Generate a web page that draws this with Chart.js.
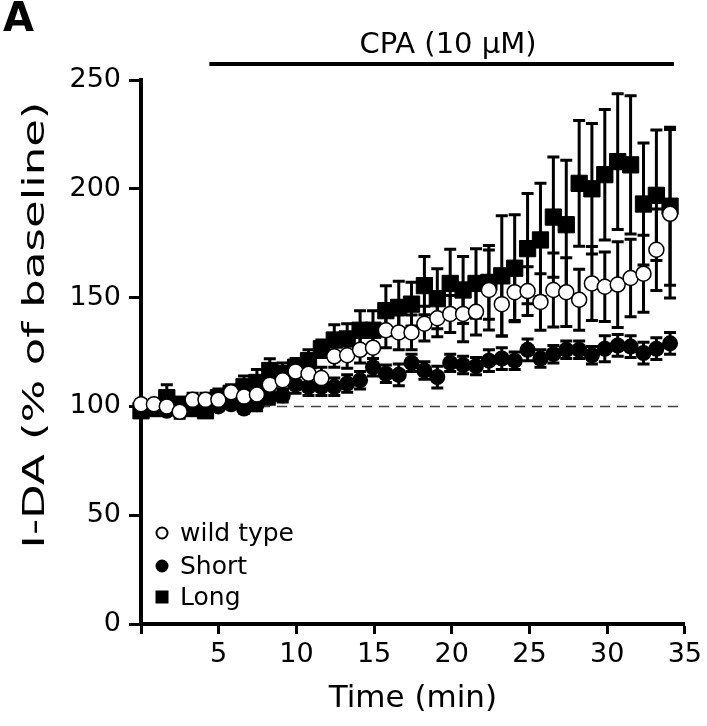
<!DOCTYPE html>
<html>
<head>
<meta charset="utf-8">
<script src="https://cdn.jsdelivr.net/npm/chart.js@4.4.0/dist/chart.umd.min.js"></script>
<style>
  html, body { margin: 0; padding: 0; background: #fff; }
</style>
</head>
<body>
<canvas id="cpaChart" width="707" height="726"></canvas>
<script>
// sampling times (min)
const timeMin = [0, 0.83, 1.66, 2.49, 3.32, 4.15, 4.98, 5.8, 6.63, 7.46,
  8.29, 9.12, 9.95, 10.78, 11.61, 12.44, 13.27, 14.1, 14.93, 15.76,
  16.59, 17.41, 18.24, 19.07, 19.9, 20.73, 21.56, 22.39, 23.22, 24.05,
  24.88, 25.71, 26.54, 27.37, 28.2, 29.02, 29.85, 30.68, 31.51, 32.34,
  33.17, 34.05];

// I-DA, % of baseline (mean and SEM)
const wildType = [101, 101, 100, 97.5, 103, 103, 103, 106.5, 104.5, 105.5,
  110, 112, 116, 115, 113, 123, 123.5, 126, 127, 135,
  134, 134, 138, 140.5, 142.5, 142.5, 143.5, 153.5, 147, 152.5,
  153, 148, 153.5, 152.5, 149, 156.5, 155, 156, 159, 161,
  172, 188.5];
const wildTypeErr = [2, 2, 3, 3, 3, 3, 3, 3, 3, 3,
  4, 4, 5, 5, 5, 5, 6, 6, 7, 8,
  8, 8, 8, 8.5, 8.5, 12.8, 10.7, 18.4, 14.6, 13,
  11.2, 13, 17, 15.8, 14, 17, 16, 19.7, 17.8, 17.7,
  18.7, 38.7];

const shortIso = [98, 99, 98, 99, 100, 99, 100, 101, 99, 101,
  104, 105, 110, 109, 109, 109, 110.5, 112, 118, 115,
  114.5, 120, 116.5, 113.5, 120, 119, 118.5, 121, 122, 121,
  126, 122, 124, 126, 126, 123.5, 126.5, 128, 127.5, 124.5,
  126.5, 129];
const shortErr = [2, 2, 2, 2, 2, 2, 2, 2, 2, 3,
  3, 3, 4, 4, 4, 4, 4, 4, 4, 4,
  5, 4, 4, 5, 4, 4, 4, 5, 5, 4,
  5, 4, 4, 4, 4, 4, 6, 5, 5, 5,
  5, 5];

const longIso = [98, 99, 104, 101, 99, 98, 104, 106, 109, 111,
  116.5, 115, 118, 121, 126.5, 130.5, 131, 135, 135, 144,
  145.5, 147, 155.5, 149.5, 156.5, 153.5, 156.5, 157, 160, 163.5,
  172.5, 176.5, 187, 183.5, 202.5, 200, 206.5, 212.5, 211, 193,
  197, 192];
const longErr = [3, 3, 6, 3, 3, 3, 4, 4, 5, 6,
  5.4, 5, 4, 5, 4, 7, 7, 9, 9, 11.5,
  12, 10, 13.4, 13.8, 15.7, 15.4, 16, 17, 27.6, 24.6,
  25.3, 26, 27.6, 29.6, 28.9, 30, 30, 31.2, 31.8, 28,
  30, 36.3];

const seriesLabels = ['wild type', 'Short', 'Long'];
const cpaStart = 4.4, cpaEnd = 34.3;
const baseline = 100;

const FONT = '"DejaVu Sans", "Liberation Sans", sans-serif';
Chart.defaults.font.family = FONT;
Chart.defaults.color = '#000';

const toPoints = (vals) => timeMin.map((t, i) => ({ x: t, y: vals[i] }));

// error bars under each dataset's markers
const errorBars = {
  id: 'errorBars',
  beforeDatasetDraw(chart, args) {
    const ds = chart.data.datasets[args.index];
    if (!ds.errors) return;
    const yScale = chart.scales.y;
    const ctx = chart.ctx;
    ctx.save();
    ctx.strokeStyle = '#000';
    ctx.lineWidth = 3;
    args.meta.data.forEach((pt, i) => {
      const v = ds.data[i].y, e = ds.errors[i];
      const top = yScale.getPixelForValue(v + e);
      const bot = yScale.getPixelForValue(v - e);
      ctx.beginPath();
      ctx.moveTo(pt.x, top); ctx.lineTo(pt.x, bot);
      ctx.moveTo(pt.x - 6, top); ctx.lineTo(pt.x + 6, top);
      ctx.moveTo(pt.x - 6, bot); ctx.lineTo(pt.x + 6, bot);
      ctx.stroke();
    });
    ctx.restore();
  }
};

// dashed baseline, CPA bar, panel letter, y title, legend
const decorations = {
  id: 'decorations',
  beforeDatasetsDraw(chart) {
    const { ctx, scales: { x, y } } = chart;
    ctx.save();
    ctx.strokeStyle = '#444';
    ctx.lineWidth = 1.5;
    ctx.setLineDash([10, 7]);
    ctx.beginPath();
    ctx.moveTo(x.getPixelForValue(0), y.getPixelForValue(baseline));
    ctx.lineTo(x.getPixelForValue(35), y.getPixelForValue(baseline));
    ctx.stroke();
    ctx.restore();
  },
  afterDraw(chart) {
    const { ctx, scales: { x } } = chart;
    ctx.save();
    ctx.fillStyle = '#000';
    ctx.strokeStyle = '#000';

    // panel letter
    ctx.font = 'bold 40px ' + FONT;
    ctx.textAlign = 'left';
    ctx.textBaseline = 'top';
    ctx.fillText('A', 3, 1);

    // CPA bar
    const x0 = x.getPixelForValue(cpaStart), x1 = x.getPixelForValue(cpaEnd);
    ctx.lineWidth = 4;
    ctx.beginPath();
    ctx.moveTo(x0, 64); ctx.lineTo(x1, 64);
    ctx.stroke();
    ctx.font = '29px ' + FONT;
    ctx.textAlign = 'center';
    ctx.textBaseline = 'middle';
    ctx.fillText('CPA (10 µM)', 448, 45);

    // y title (stretched along its length)
    ctx.save();
    ctx.translate(36, 325);
    ctx.rotate(-Math.PI / 2);
    ctx.scale(1.5, 1);
    ctx.font = '30px ' + FONT;
    ctx.textAlign = 'center';
    ctx.textBaseline = 'middle';
    ctx.fillText('I-DA (% of baseline)', 0, 0);
    ctx.restore();

    // legend
    const rows = [533, 566, 597];
    const sx = 162;
    ctx.font = '25px ' + FONT;
    ctx.textAlign = 'left';
    ctx.textBaseline = 'middle';
    seriesLabels.forEach((label, i) => {
      const ry = rows[i];
      ctx.beginPath();
      if (i === 0) {
        ctx.lineWidth = 2;
        ctx.arc(sx, ry, 5.5, 0, Math.PI * 2);
        ctx.stroke();
      } else if (i === 1) {
        ctx.arc(sx, ry, 6.5, 0, Math.PI * 2);
        ctx.fill();
      } else {
        ctx.rect(sx - 6.5, ry - 6.5, 13, 13);
        ctx.fill();
      }
      ctx.fillText(label, 180, ry + 1);
    });
    ctx.restore();
  }
};

const ctxMain = document.getElementById('cpaChart').getContext('2d');
const cpaChart = new Chart(ctxMain, {
  type: 'scatter',
  data: {
    datasets: [
      {
        label: seriesLabels[0],
        data: toPoints(wildType),
        errors: wildTypeErr,
        pointStyle: 'circle',
        pointRadius: 7.5,
        pointBackgroundColor: '#fff',
        pointBorderColor: '#000',
        pointBorderWidth: 1.5,
        clip: false
      },
      {
        label: seriesLabels[1],
        data: toPoints(shortIso),
        errors: shortErr,
        pointStyle: 'circle',
        pointRadius: 8,
        pointBackgroundColor: '#000',
        pointBorderColor: '#000',
        pointBorderWidth: 0,
        clip: false
      },
      {
        label: seriesLabels[2],
        data: toPoints(longIso),
        errors: longErr,
        pointStyle: 'rect',
        pointRadius: 11.5,
        pointBackgroundColor: '#000',
        pointBorderColor: '#000',
        pointBorderWidth: 1,
        clip: false
      }
    ]
  },
  options: {
    responsive: false,
    animation: false,
    events: [],
    layout: { padding: { top: 80, right: 16, bottom: 0, left: 0 } },
    plugins: {
      legend: { display: false },
      tooltip: { enabled: false }
    },
    scales: {
      x: {
        type: 'linear',
        min: 0,
        max: 35,
        afterFit: (s) => { s.height = 102; },
        ticks: {
          stepSize: 5,
          padding: 5,
          font: { size: 27 },
          color: '#000',
          callback: (v) => (v === 0 ? '' : v)
        },
        grid: {
          drawOnChartArea: false,
          drawTicks: true,
          tickLength: 10,
          tickWidth: 3,
          tickColor: '#000'
        },
        border: { display: true, width: 4, color: '#000' },
        title: {
          display: true,
          text: 'Time (min)',
          font: { size: 31 },
          color: '#000',
          padding: { top: 0, bottom: 8 }
        }
      },
      y: {
        min: 0,
        max: 250,
        afterFit: (s) => { s.width = 141; },
        ticks: {
          stepSize: 50,
          padding: 8,
          font: { size: 27 },
          color: '#000'
        },
        grid: {
          drawOnChartArea: false,
          drawTicks: true,
          tickLength: 12,
          tickWidth: 3,
          tickColor: '#000'
        },
        border: { display: true, width: 4, color: '#000' }
      }
    }
  },
  plugins: [errorBars, decorations]
});
</script>
</body>
</html>
